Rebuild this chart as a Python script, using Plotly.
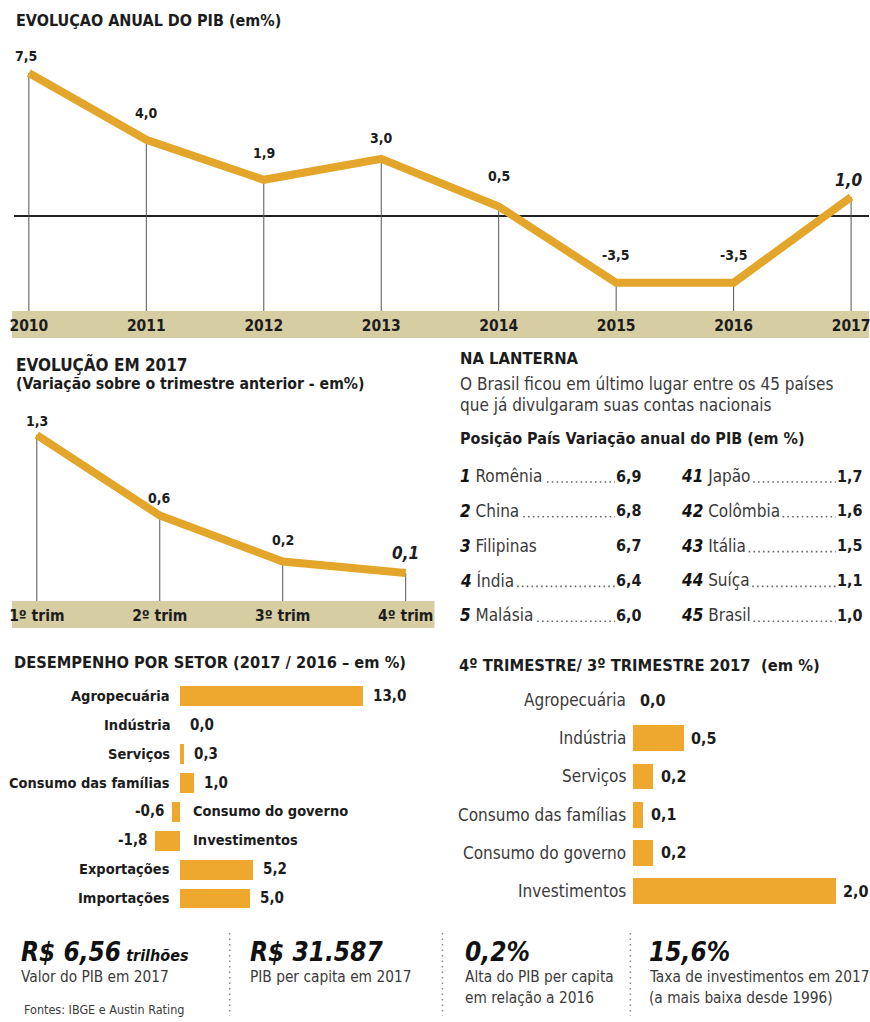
import unicodedata
import plotly.graph_objects as go

W, H = 870, 1022


def px(x):
    return x / W


def py(y):
    return 1 - y / H


# ---------------- data ----------------
years = ["2010", "2011", "2012", "2013", "2014", "2015", "2016", "2017"]
pib_anual = [7.5, 4.0, 1.9, 3.0, 0.5, -3.5, -3.5, 1.0]

trimestres = ["1º trim", "2º trim", "3º trim", "4º trim"]
pib_trim = [1.3, 0.6, 0.2, 0.1]

rank_top_pos = [1, 2, 3, 4, 5]
rank_top_country = ["Romênia", "China", "Filipinas", "Índia", "Malásia"]
rank_top_value = [6.9, 6.8, 6.7, 6.4, 6.0]
rank_bot_pos = [41, 42, 43, 44, 45]
rank_bot_country = ["Japão", "Colômbia", "Itália", "Suíça", "Brasil"]
rank_bot_value = [1.7, 1.6, 1.5, 1.1, 1.0]

setor_cats = ["Agropecuária", "Indústria", "Serviços", "Consumo das famílias",
              "Consumo do governo", "Investimentos", "Exportações", "Importações"]
setor_vals = [13.0, 0.0, 0.3, 1.0, -0.6, -1.8, 5.2, 5.0]

trim_cats = ["Agropecuária", "Indústria", "Serviços", "Consumo das famílias",
             "Consumo do governo", "Investimentos"]
trim_vals = [0.0, 0.5, 0.2, 0.1, 0.2, 2.0]

footer_values = ["R$ 6,56", "R$ 31.587", "0,2%", "15,6%"]
footer_suffix = ["trilhões", "", "", ""]
footer_desc = [["Valor do PIB em 2017"], ["PIB per capita em 2017"],
               ["Alta do PIB per capita", "em relação a 2016"],
               ["Taxa de investimentos em 2017", "(a mais baixa desde 1996)"]]

# ---------------- style ----------------
FONT = "DejaVu Sans Condensed, Liberation Sans Narrow, Arial Narrow, sans-serif"
GOLD = "#E3A52A"
BAR = "#EFA82E"
BAND = "#D6CDA3"
DARK = "#1c1c1c"
GREY = "#3a3a3a"

# approximate advance widths (DejaVu Sans, units of 1/2048 em) for leader placement
_W = dict(zip("abcdefghijklmnopqrstuvwxyz",
              [1255, 1300, 1126, 1300, 1260, 721, 1300, 1298, 569, 569, 1186, 569, 1995,
               1298, 1253, 1300, 1300, 842, 1067, 803, 1298, 1212, 1675, 1212, 1212, 1075]))
_W.update(dict(zip("ABCDEFGHIJKLMNOPQRSTUVWXYZ",
                   [1401, 1405, 1430, 1577, 1294, 1178, 1587, 1540, 604, 604, 1343, 1141, 1767,
                    1532, 1612, 1235, 1612, 1423, 1300, 1251, 1499, 1401, 2025, 1403, 1251, 1405])))


def text_w(s, size, bold=False):
    tot = 0
    for ch in s:
        base = unicodedata.normalize("NFD", ch)[0]
        if base.isdigit():
            tot += 1425 if bold else 1303
        elif base in ",. ":
            tot += 776 if bold else 651
        else:
            tot += _W.get(base, 1250)
    return tot / 2048 * size * 0.9


def fmt(v):
    return f"{v:.1f}".replace(".", ",")


fig = go.Figure()
ann = []
shapes = []

# ---------------- top line chart ----------------
Y1_MIN, Y1_MAX = (216 - 311) / 19.07, (216 - 40) / 19.07
idx = list(range(len(years)))
sx, sy = [], []
for i, v in zip(idx, pib_anual):
    sx += [i, i, None]
    sy += [v, Y1_MIN, None]
fig.add_trace(go.Scatter(x=sx, y=sy, mode="lines", line=dict(color="#555", width=1),
                         xaxis="x", yaxis="y", hoverinfo="skip", showlegend=False))
fig.add_trace(go.Scatter(x=idx, y=pib_anual, mode="lines", line=dict(color=GOLD, width=8),
                         xaxis="x", yaxis="y", showlegend=False))
dy1 = [17, 27, 27, 21, 30, 28, 28, 17]
for k, (i, v) in enumerate(zip(idx, pib_anual)):
    last = k == len(idx) - 1
    ann.append(dict(x=i, y=v, xref="x", yref="y", yshift=dy1[k], xshift=-3 if k == 0 else (-3 if last else 0),
                    text=f"<b><i>{fmt(v)}</i></b>" if last else f"<b>{fmt(v)}</b>",
                    showarrow=False, font=dict(family=FONT, size=17 if last else 14, color=DARK)))
shapes.append(dict(type="rect", xref="paper", yref="paper", x0=px(8), x1=1, y0=py(338), y1=py(311),
                   fillcolor=BAND, line=dict(width=0), layer="below"))

# ---------------- 2017 quarterly line ----------------
Y2_MIN, Y2_MAX = (584.5 - 601) / 115, (584.5 - 400) / 115
qidx = list(range(len(trimestres)))
sx, sy = [], []
for i, v in zip(qidx, pib_trim):
    sx += [i, i, None]
    sy += [v, Y2_MIN, None]
fig.add_trace(go.Scatter(x=sx, y=sy, mode="lines", line=dict(color="#555", width=1),
                         xaxis="x2", yaxis="y2", hoverinfo="skip", showlegend=False))
fig.add_trace(go.Scatter(x=qidx, y=pib_trim, mode="lines", line=dict(color=GOLD, width=8),
                         xaxis="x2", yaxis="y2", showlegend=False))
dy2 = [14, 18, 22, 20]
for k, (i, v) in enumerate(zip(qidx, pib_trim)):
    last = k == len(qidx) - 1
    ann.append(dict(x=i, y=v, xref="x2", yref="y2", yshift=dy2[k],
                    text=f"<b><i>{fmt(v)}</i></b>" if last else f"<b>{fmt(v)}</b>",
                    showarrow=False, font=dict(family=FONT, size=17 if last else 14, color=DARK)))
shapes.append(dict(type="rect", xref="paper", yref="paper", x0=px(8), x1=px(433), y0=py(628), y1=py(601),
                   fillcolor=BAND, line=dict(width=0), layer="below"))

# ---------------- sector bars (left) ----------------
fig.add_trace(go.Bar(x=setor_vals, y=setor_cats, orientation="h", width=0.69,
                     marker=dict(color=BAR, line=dict(width=0)), xaxis="x3", yaxis="y3", showlegend=False))
for c, v in zip(setor_cats, setor_vals):
    f = dict(family=FONT, size=14.5, color=DARK)
    if v >= 0:
        ann.append(dict(x=0, y=c, xref="x3", yref="y3", xanchor="right", xshift=-8, text=f"<b>{c}</b>",
                        showarrow=False, font=f))
        ann.append(dict(x=v, y=c, xref="x3", yref="y3", xanchor="left", xshift=8, text=f"<b>{fmt(v)}</b>",
                        showarrow=False, font=dict(f, size=15)))
    else:
        ann.append(dict(x=0, y=c, xref="x3", yref="y3", xanchor="left", xshift=11, text=f"<b>{c}</b>",
                        showarrow=False, font=f))
        ann.append(dict(x=v, y=c, xref="x3", yref="y3", xanchor="right", xshift=-5, text=f"<b>{fmt(v)}</b>",
                        showarrow=False, font=dict(f, size=15)))

# ---------------- quarter bars (right) ----------------
fig.add_trace(go.Bar(x=trim_vals, y=trim_cats, orientation="h", width=0.68,
                     marker=dict(color=BAR, line=dict(width=0)), xaxis="x4", yaxis="y4", showlegend=False))
for c, v in zip(trim_cats, trim_vals):
    ann.append(dict(x=0, y=c, xref="x4", yref="y4", xanchor="right", xshift=-5, text=c,
                    showarrow=False, font=dict(family=FONT, size=17, color=GREY)))
    ann.append(dict(x=v, y=c, xref="x4", yref="y4", xanchor="left", xshift=5, text=f"<b>{fmt(v)}</b>",
                    showarrow=False, font=dict(family=FONT, size=16, color=DARK)))


# ---------------- titles ----------------
def title(text, x, y, size=14, color=DARK):
    ann.append(dict(x=px(x), y=py(y), xref="paper", yref="paper", xanchor="left", yanchor="middle",
                    text=text, showarrow=False, font=dict(family=FONT, size=size, color=color)))


title("<b>EVOLUÇAO ANUAL DO PIB (em%)</b>", 10, 20, size=16)
title("<b>EVOLUÇÃO EM 2017</b>", 10, 364, size=17)
title("<b>(Variação sobre o trimestre anterior - em%)</b>", 10, 383, size=15.7)
title("<b>NA LANTERNA</b>", 457, 358, size=16.5)
title("O Brasil ficou em último lugar entre os 45 países", 457, 384, size=17, color=GREY)
title("que já divulgaram suas contas nacionais", 457, 405, size=17, color=GREY)
title("<b>Posição País Variação anual do PIB (em %)</b>", 457, 438, size=16)
title("<b>DESEMPENHO POR SETOR (2017 / 2016 – em %)</b>", 8, 662, size=16.3)
title("<b>4º TRIMESTRE/ 3º TRIMESTRE 2017  (em %)</b>", 456, 665, size=16.4)

# ---------------- ranking table ----------------
NUM_S, NAME_S, VAL_S = 17, 17, 16
no_leader = {"Filipinas"}
for col, (poss, ctrs, vals) in enumerate([(rank_top_pos, rank_top_country, rank_top_value),
                                          (rank_bot_pos, rank_bot_country, rank_bot_value)]):
    x_name = 457 if col == 0 else 679
    x_val = 644 if col == 0 else 866
    for r, (p, c, v) in enumerate(zip(poss, ctrs, vals)):
        y = 476 + 34.8 * r
        ann.append(dict(x=px(x_name), y=py(y), xref="paper", yref="paper", xanchor="left",
                        text=f"<b><i><span style='color:#111;font-size:{NUM_S}px'>{p}</span></i></b> {c}",
                        showarrow=False, font=dict(family=FONT, size=NAME_S, color=GREY)))
        ann.append(dict(x=px(x_val), y=py(y), xref="paper", yref="paper", xanchor="right",
                        text=f"<b>{fmt(v)}</b>", showarrow=False, font=dict(family=FONT, size=VAL_S, color=DARK)))
        if c not in no_leader:
            x0 = x_name + text_w(str(p), NUM_S, bold=True) + text_w(" " + c, NAME_S) + 6
            x1 = x_val - text_w(fmt(v), VAL_S, bold=True) - 4
            shapes.append(dict(type="line", xref="paper", yref="paper", x0=px(x0), x1=px(x1),
                               y0=py(y + 6), y1=py(y + 6),
                               line=dict(color="#666", width=1.6, dash="1.6px,3.2px")))

# ---------------- footer ----------------
fx = [15, 245, 462, 647]
for k, x in enumerate(fx):
    txt = f"<b><i>{footer_values[k]}</i></b>"
    if footer_suffix[k]:
        txt += f"<b><i><span style='font-size:16px'> {footer_suffix[k]}</span></i></b>"
    title(txt, x, 952, size=26, color="#111")
    for j, line in enumerate(footer_desc[k]):
        title(line, x, 977 + 21 * j, size=15.3, color=GREY)
title("Fontes: IBGE e Austin Rating", 18, 1009, size=12.5, color=GREY)
for x in [227, 441, 630]:
    shapes.append(dict(type="line", xref="paper", yref="paper", x0=px(x), x1=px(x), y0=py(933), y1=py(1016),
                       line=dict(color="#888", width=1.5, dash="1.5px,4px")))

# ---------------- layout ----------------
hidden = dict(showgrid=False, zeroline=False, showline=False, showticklabels=False, ticks="", fixedrange=True)
tickf = dict(family=FONT, size=15.5, color=DARK, weight="bold")
fig.update_layout(
    width=W, height=H, margin=dict(l=0, r=0, t=0, b=0),
    paper_bgcolor="white", plot_bgcolor="rgba(0,0,0,0)",
    font=dict(family=FONT, color=DARK),
    xaxis=dict(domain=[px(10), 1], range=[(10 - 25) / 118.14, (870 - 25) / 118.14],
               tickmode="array", tickvals=idx, ticktext=years, showgrid=False, zeroline=False,
               showline=False, ticks="", ticklabelstandoff=3, ticklabeloverflow="allow",
               tickfont=tickf, anchor="y"),
    yaxis=dict(domain=[py(311), py(40)], range=[Y1_MIN, Y1_MAX], showgrid=False, showticklabels=False,
               ticks="", zeroline=True, zerolinecolor="#222", zerolinewidth=1.5, anchor="x"),
    xaxis2=dict(domain=[0, px(440)], range=[-33 / 123.67, 407 / 123.67], tickmode="array",
                tickvals=qidx, ticktext=trimestres, showgrid=False, zeroline=False, showline=False,
                ticks="", ticklabelstandoff=3, ticklabeloverflow="allow",
                tickfont=tickf, anchor="y2"),
    yaxis2=dict(domain=[py(601), py(400)], range=[Y2_MIN, Y2_MAX], **hidden, anchor="x2"),
    xaxis3=dict(domain=[0, px(440)], range=[-177 / 14.15, 263 / 14.15], **hidden, anchor="y3"),
    yaxis3=dict(domain=[py(912.5), py(681.6)], range=[7.5, -0.5], type="category",
                categoryorder="array", categoryarray=setor_cats, **hidden, anchor="x3"),
    xaxis4=dict(domain=[px(440), 1], range=[(440 - 633) / 102, (870 - 633) / 102], **hidden, anchor="y4"),
    yaxis4=dict(domain=[py(910.1), py(680.9)], range=[5.5, -0.5], type="category",
                categoryorder="array", categoryarray=trim_cats, **hidden, anchor="x4"),
    annotations=ann, shapes=shapes, bargap=0,
)

fig.write_html("out.html")
